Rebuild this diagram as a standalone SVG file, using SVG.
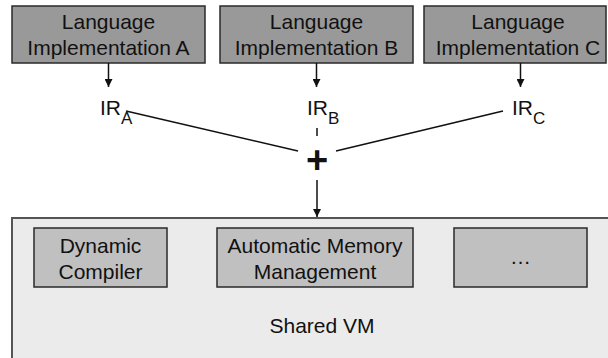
<svg xmlns="http://www.w3.org/2000/svg" width="608" height="358" viewBox="0 0 608 358">
<style>
text{font-family:"Liberation Sans",Arial,Helvetica,sans-serif;fill:#111;}
.t{font-size:21px;text-anchor:middle;}
.lang{fill:#999999;stroke:#2a2a2a;stroke-width:1.5;}
.inner{fill:#c0c0c0;stroke:#2a2a2a;stroke-width:1.5;}
.vm{fill:#ebebeb;stroke:#555;stroke-width:2;}
.ln{stroke:#111;stroke-width:1.5;fill:none;}
.ir{font-size:21px;}
.sub{font-size:17px;}
</style>
<defs>
<marker id="ah" viewBox="0 0 10 10" refX="10" refY="5" markerWidth="8" markerHeight="8" markerUnits="userSpaceOnUse" orient="auto">
<path d="M0,0 L10,5 L0,10 Z" fill="#111"/>
</marker>
</defs>
<g id="vm">
<rect class="vm" x="12" y="218" width="620" height="150"/>
<text class="t" x="322" y="333">Shared VM</text>
</g>
<g id="langA">
<rect class="lang" x="12" y="6" width="193" height="57"/>
<text class="t" x="108.5" y="29">Language</text>
<text class="t" x="108.5" y="55">Implementation A</text>
</g>
<g id="langB">
<rect class="lang" x="220" y="6" width="193" height="57"/>
<text class="t" x="316.5" y="29">Language</text>
<text class="t" x="316.5" y="55">Implementation B</text>
</g>
<g id="langC">
<rect class="lang" x="424" y="6" width="182" height="57"/>
<text class="t" x="518" y="29">Language</text>
<text class="t" x="518" y="55">Implementation C</text>
</g>
<g id="irA"><text class="ir" x="100" y="115">IR<tspan class="sub" dy="9">A</tspan></text></g>
<g id="irB"><text class="ir" x="307" y="115">IR<tspan class="sub" dy="9">B</tspan></text></g>
<g id="irC"><text class="ir" x="512" y="115">IR<tspan class="sub" dy="9">C</tspan></text></g>
<g id="plus"><text x="317" y="173" style="font-size:38px;font-weight:bold;text-anchor:middle;">+</text></g>
<g id="dyn">
<rect class="inner" x="34" y="228" width="133" height="59"/>
<text class="t" x="100.5" y="253">Dynamic</text>
<text class="t" x="100.5" y="279">Compiler</text>
</g>
<g id="amm">
<rect class="inner" x="217" y="228" width="196" height="59"/>
<text class="t" x="315" y="253">Automatic Memory</text>
<text class="t" x="315" y="279">Management</text>
</g>
<g id="etc">
<rect class="inner" x="454" y="228" width="133" height="59"/>
<text class="t" x="520.5" y="264">…</text>
</g>
<g id="connectors">
<line class="ln" x1="108.5" y1="63" x2="108.5" y2="87" marker-end="url(#ah)"/>
<line class="ln" x1="316.5" y1="63" x2="316.5" y2="87" marker-end="url(#ah)"/>
<line class="ln" x1="520.5" y1="63" x2="520.5" y2="87" marker-end="url(#ah)"/>
<line class="ln" x1="126" y1="111" x2="298" y2="151"/>
<line class="ln" x1="503" y1="111" x2="336" y2="151"/>
<line class="ln" x1="317" y1="128" x2="317" y2="136"/>
<line class="ln" x1="317" y1="180" x2="317" y2="217" marker-end="url(#ah)"/>
</g>
</svg>
